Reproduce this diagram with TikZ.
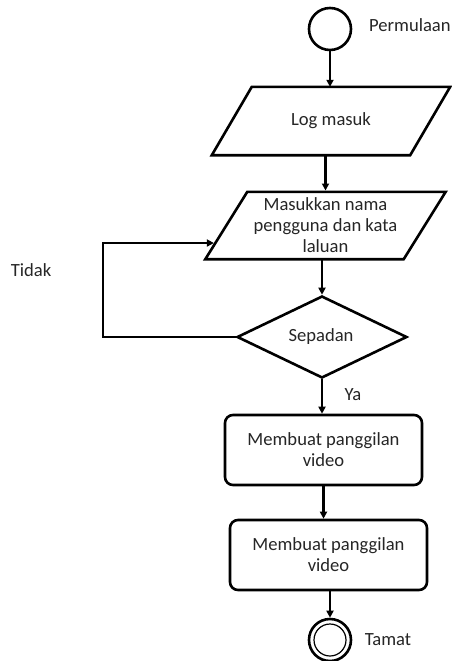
\documentclass[tikz,border=0pt]{standalone}
\usepackage{fontspec}
\setmainfont{Carlito}
\usetikzlibrary{shapes.geometric,arrows.meta,calc}
\begin{document}
\begin{tikzpicture}[x=1pt,y=-1pt,
  shapeline/.style={draw=black,line width=2.6pt},
  lbl/.style={font=\fontsize{18.6}{21}\selectfont,text=black!85,align=center,inner sep=0pt},
  parabody/.style={rectangle,inner sep=0pt,lbl},
  termin/.style={circle,shapeline,minimum size=42,inner sep=0pt},
  procbox/.style={shapeline,lbl,rounded corners=8pt,minimum width=197,minimum height=70},
  decis/.style={diamond,shapeline,minimum width=170,minimum height=82,inner sep=0pt},
  arr/.style={line width=2.2pt,-{Triangle[length=7pt,width=7pt]}}
]
\fill[white] (0,0) rectangle (452,661);
\useasboundingbox (0,0) rectangle (452,661);

\node[termin] (start) at (330,29) {};
\node[lbl,anchor=west] (perm) at (369,25) {Permulaan};

% parallelogram 1
\node[parabody,minimum width=198,minimum height=68] (log) at (331,121) {Log masuk};
\coordinate (ltl) at ($(log.north west)+(20,0)$);
\coordinate (ltr) at ($(log.north east)+(20,0)$);
\coordinate (lbr) at ($(log.south east)+(-20,0)$);
\coordinate (lbl) at ($(log.south west)+(-20,0)$);
\draw[shapeline,line join=miter] (ltl) -- (ltr) -- (lbr) -- (lbl) -- cycle;

% parallelogram 2
\node[parabody,minimum width=198,minimum height=67] (masuk) at (325.5,225.5) {Masukkan nama\\pengguna dan kata\\laluan};
\coordinate (mtl) at ($(masuk.north west)+(21,0)$);
\coordinate (mtr) at ($(masuk.north east)+(21,0)$);
\coordinate (mbr) at ($(masuk.south east)+(-21,0)$);
\coordinate (mbl) at ($(masuk.south west)+(-21,0)$);
\draw[shapeline,line join=miter] (mtl) -- (mtr) -- (mbr) -- (mbl) -- cycle;

\node[decis] (dia) at (322,337) {};
\node[lbl] (diat) at (321,337) {Sepadan};

\node[procbox] (b1) at (323.5,450) {Membuat panggilan\\video};
\node[procbox] (b2) at (328.5,555) {Membuat panggilan\\video};

\node[termin] (end) at (330,640) {};
\draw[line width=1.2pt] (end.center) circle (16pt);

\node[lbl] (tidak) at (31,270) {Tidak};
\node[lbl] (ya) at (353,395) {Ya};
\node[lbl] (tamat) at (388,640) {Tamat};

\coordinate (lc) at (103,337);
\coordinate (inpt) at ($(mbl)!0.24!(mtl)+(-1.5,0)$);

\draw[arr] (start.south) -- (start.south |- ltl);
\draw[arr] (masuk.north |- lbl) -- ([yshift=1.3pt]masuk.north);
\draw[arr] (dia.north |- mbl) -- (dia.north);
\draw[arr] (dia.south) -- (dia.south |- b1.north);
\draw[arr] (b1.south) -- (b1.south |- b2.north);
\draw[arr] (end.north |- b2.south) -- (end.north);
\draw[arr] (dia.west) -- (lc) |- (inpt);
\end{tikzpicture}
\end{document}
